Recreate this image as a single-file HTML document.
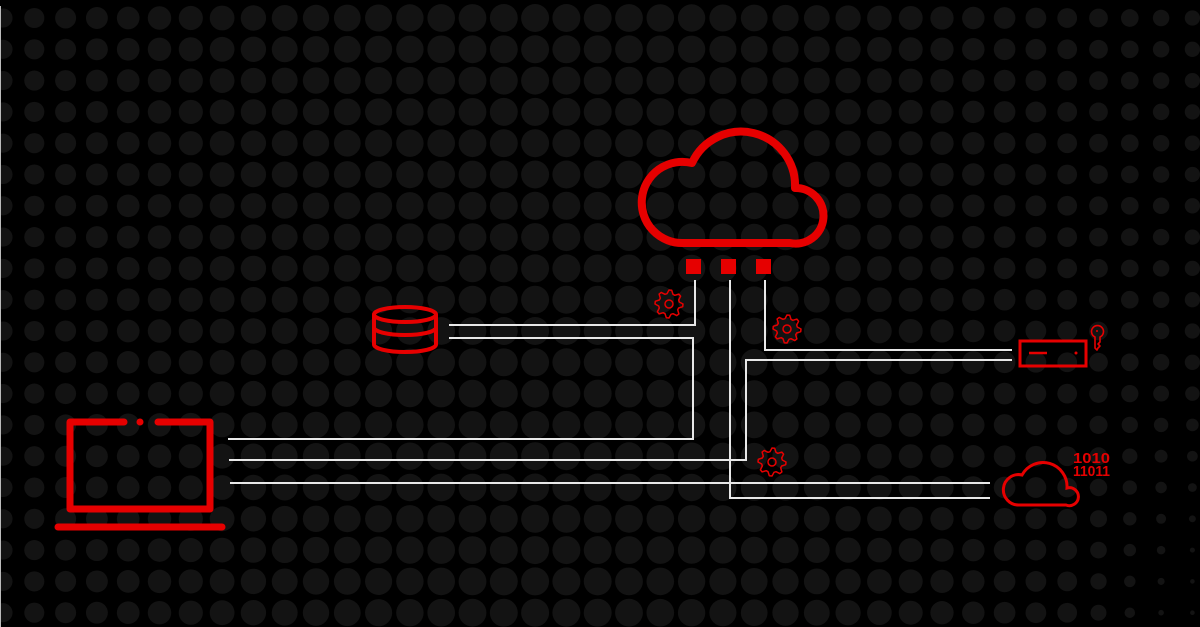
<!DOCTYPE html>
<html><head><meta charset="utf-8"><style>
html,body{margin:0;padding:0;background:#000;}
svg{display:block}
</style></head><body>
<svg id="s" width="1200" height="627" viewBox="0 0 1200 627" xmlns="http://www.w3.org/2000/svg">
<rect width="1200" height="627" fill="#000"/>
<g id="dots" fill="#131313"></g>
<line x1="0.5" y1="6" x2="0.5" y2="627" stroke="#bbb" stroke-width="1"/>
<g stroke="#e8e8e8" stroke-width="2" fill="none">
<polyline points="449,325 695,325 695,280"/>
<polyline points="449,338 693,338 693,439 228,439"/>
<polyline points="229,460 746,460 746,360 1012,360"/>
<polyline points="765,280 765,350 1012,350"/>
<polyline points="730,280 730,498 990,498"/>
<line x1="230" y1="483" x2="990" y2="483"/>
</g>
<g fill="none" stroke="#e60000">
<path d="M684 243 A40.6 40.6 0 1 1 692 163 A54 54 0 0 1 795 188 A27.8 27.8 0 1 1 790 243 Z" stroke-width="8" stroke-linejoin="round"/>
<path d="M1019 505 A15.2 15.2 0 1 1 1022 475 A24 24 0 0 1 1067 488 A9 9 0 1 1 1066 505 Z" stroke-width="3"/>
<rect x="1020" y="341" width="66" height="25" stroke-width="3"/>
<line x1="1029" y1="353" x2="1047" y2="353" stroke-width="2.5"/>
<g stroke-width="4">
<ellipse cx="405" cy="314.5" rx="31" ry="7.5"/>
<path d="M374 327.5 A31 7.5 0 0 0 436 327.5"/>
<path d="M374 344.5 A31 7.5 0 0 0 436 344.5"/>
<line x1="374" y1="314.5" x2="374" y2="344.5"/>
<line x1="436" y1="314.5" x2="436" y2="344.5"/>
</g>
<g stroke-width="7" stroke-linecap="round" stroke-linejoin="round">
<polyline points="124,422 70,422 70,509 210,509 210,422 158,422"/>
<line x1="58" y1="527" x2="222" y2="527"/>
</g>
<path d="M1095 337 A6 6 0 1 1 1100 337 L1100 342 L1098 344 L1100 346 L1098 348 L1097 350 L1095 348 Z" stroke-width="1.6" stroke-linejoin="round"/>
</g>
<circle cx="140" cy="422" r="3.5" fill="#e60000"/>
<circle cx="1076" cy="353" r="1.5" fill="#e60000"/>
<circle cx="1097" cy="331" r="1" fill="#e60000"/>
<g fill="#e60000">
<rect x="686" y="259" width="15" height="15"/>
<rect x="721" y="259" width="15" height="15"/>
<rect x="756" y="259" width="15" height="15"/>
</g>
<g fill="#e60000" font-family="'Liberation Sans',sans-serif" font-weight="bold" font-size="15">
<text x="1073" y="463" textLength="37" lengthAdjust="spacingAndGlyphs">1010</text>
<text x="1073" y="476" textLength="37" lengthAdjust="spacingAndGlyphs">11011</text>
</g>
<g id="gears" fill="none" stroke="#e60000" stroke-width="1.5"></g>
</svg>
<script>
var NS="http://www.w3.org/2000/svg";
var d=document.getElementById("dots");
for(var j=0;j<21;j++){for(var i=0;i<40;i++){
var x=3+i*31.3,y=18+j*31.3;if(x>1205)continue;
var r;
if(x<550){var t=(550-x)/550;r=14-4.5*t*t;}else{var t=(x-550)/650;r=14-6.5*t*t;}
var fx=Math.max(0,(x-1080)/120),fy=Math.max(0,(y-380)/250);
r*=1-0.7*Math.min(1,fx*fy*1.5);
if(r<0.5)continue;
var c=document.createElementNS(NS,"circle");c.setAttribute("cx",x);c.setAttribute("cy",y);c.setAttribute("r",r.toFixed(2));d.appendChild(c);}}
var g=document.getElementById("gears");
[[669,304],[787,329],[772,462]].forEach(function(p){
var pts=[],n=8;
for(var k=0;k<n*4;k++){var a=(k/(n*4))*2*Math.PI;var rr=(k%4<2)?14:10.5;
pts.push((p[0]+rr*Math.cos(a)).toFixed(1)+","+(p[1]+rr*Math.sin(a)).toFixed(1));}
var pl=document.createElementNS(NS,"polygon");pl.setAttribute("points",pts.join(" "));pl.setAttribute("stroke-linejoin","round");g.appendChild(pl);
var c=document.createElementNS(NS,"circle");c.setAttribute("cx",p[0]);c.setAttribute("cy",p[1]);c.setAttribute("r",4);g.appendChild(c);
});
</script>
</body></html>
